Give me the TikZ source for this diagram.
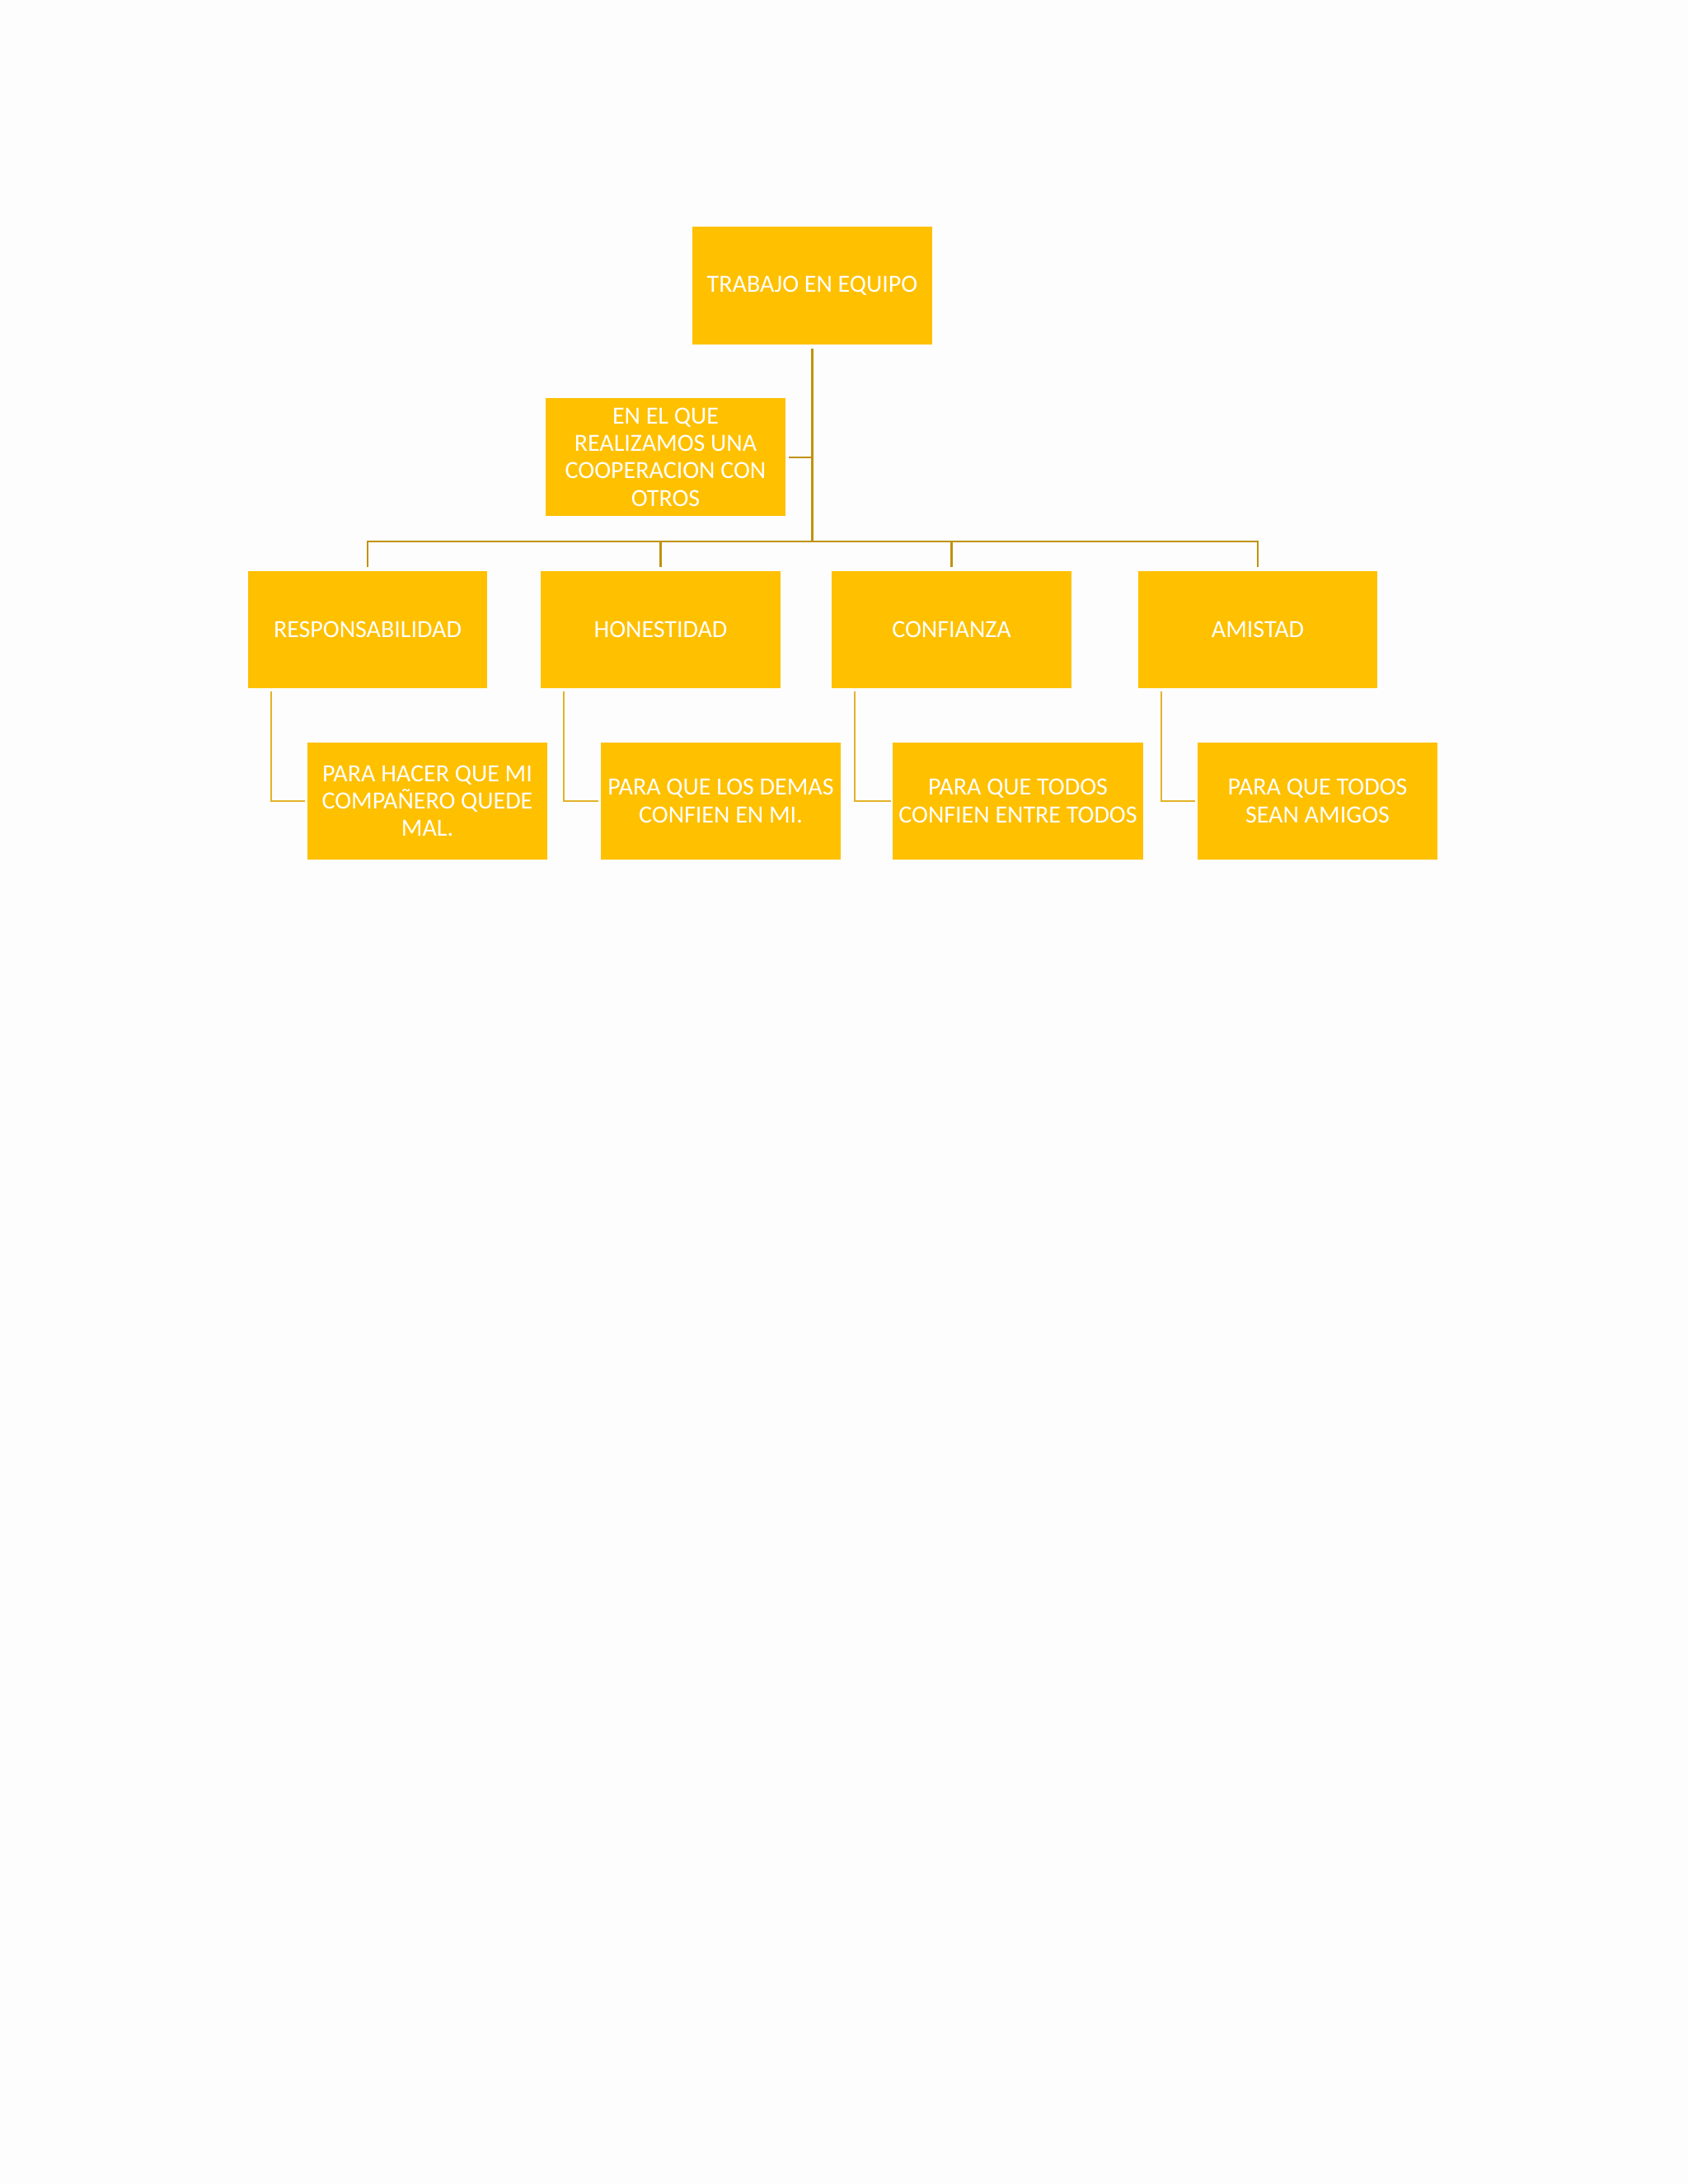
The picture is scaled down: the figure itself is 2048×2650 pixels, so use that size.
\documentclass[tikz,border=0pt]{standalone}
\usepackage{fontspec}
\setmainfont{Carlito}
\usepackage{tikz}
\usetikzlibrary{positioning, calc}

\definecolor{gold}{RGB}{255,192,0}
\definecolor{trunkline}{RGB}{191,146,10}
\definecolor{childline}{RGB}{228,178,40}
\definecolor{paper}{RGB}{253,253,253}

\begin{document}
\begin{tikzpicture}[
    x=0.010542cm, y=-0.010542cm, % pixel grid of the page
    box/.style={rectangle, fill=gold, text=white, minimum width=3.06cm, minimum height=1.5cm, align=center, inner sep=1pt, font=\fontsize{9}{10}\selectfont},
    child/.style={box, minimum width=3.07cm},
    link/.style={draw=trunkline, line width=0.7pt},
    sublink/.style={draw=childline, line width=0.7pt}
]

% page
\fill[paper] (0,0) rectangle (2048,2650);
\useasboundingbox (0,0) rectangle (2048,2650);

% --- Top ---
\node[box] (trabajo) at (985.5, 346.5) {TRABAJO EN EQUIPO};
\node[box, minimum width=3.07cm] (coop) at (807.5, 554.5) {EN EL QUE\\REALIZAMOS UNA\\COOPERACION CON\\OTROS};

% --- Values ---
\node[box] (resp) at (446, 764) {RESPONSABILIDAD};
\node[box] (hon) at (801.5, 764) {HONESTIDAD};
\node[box] (conf) at (1154.5, 764) {CONFIANZA};
\node[box] (amis) at (1526, 764) {AMISTAD};

% --- Reasons ---
\node[child] (respwhy) at (518.5, 972) {PARA HACER QUE MI\\COMPAÑERO QUEDE\\MAL.};
\node[child] (honwhy) at (874.5, 972) {PARA QUE LOS DEMAS\\CONFIEN EN MI.};
\node[child, minimum width=3.2cm] (confwhy) at (1235, 972) {PARA QUE TODOS\\CONFIEN ENTRE TODOS};
\node[child] (amiswhy) at (1598.5, 972) {PARA QUE TODOS\\SEAN AMIGOS};

% connectors
\coordinate (bus) at (985.5, 657);
\draw[link, line width=1.1pt] ([yshift=-0.05cm]trabajo.south) -- (bus);
\draw[link, line width=0.6pt] ([xshift=0.03cm]coop.east) -- (coop.east -| bus);
\draw[link] ([yshift=0.04cm]resp.north) |- (bus) -| ([yshift=0.04cm]amis.north);
\draw[link] ([yshift=0.04cm]hon.north) -- (hon.north |- bus);
\draw[link] ([yshift=0.04cm]conf.north) -- (conf.north |- bus);

\foreach \p/\c in {resp/respwhy, hon/honwhy, conf/confwhy, amis/amiswhy}
    \draw[sublink] ([xshift=0.3cm, yshift=-0.03cm]\p.south west) |- ([xshift=-0.02cm]\c.west);

\end{tikzpicture}
\end{document}
